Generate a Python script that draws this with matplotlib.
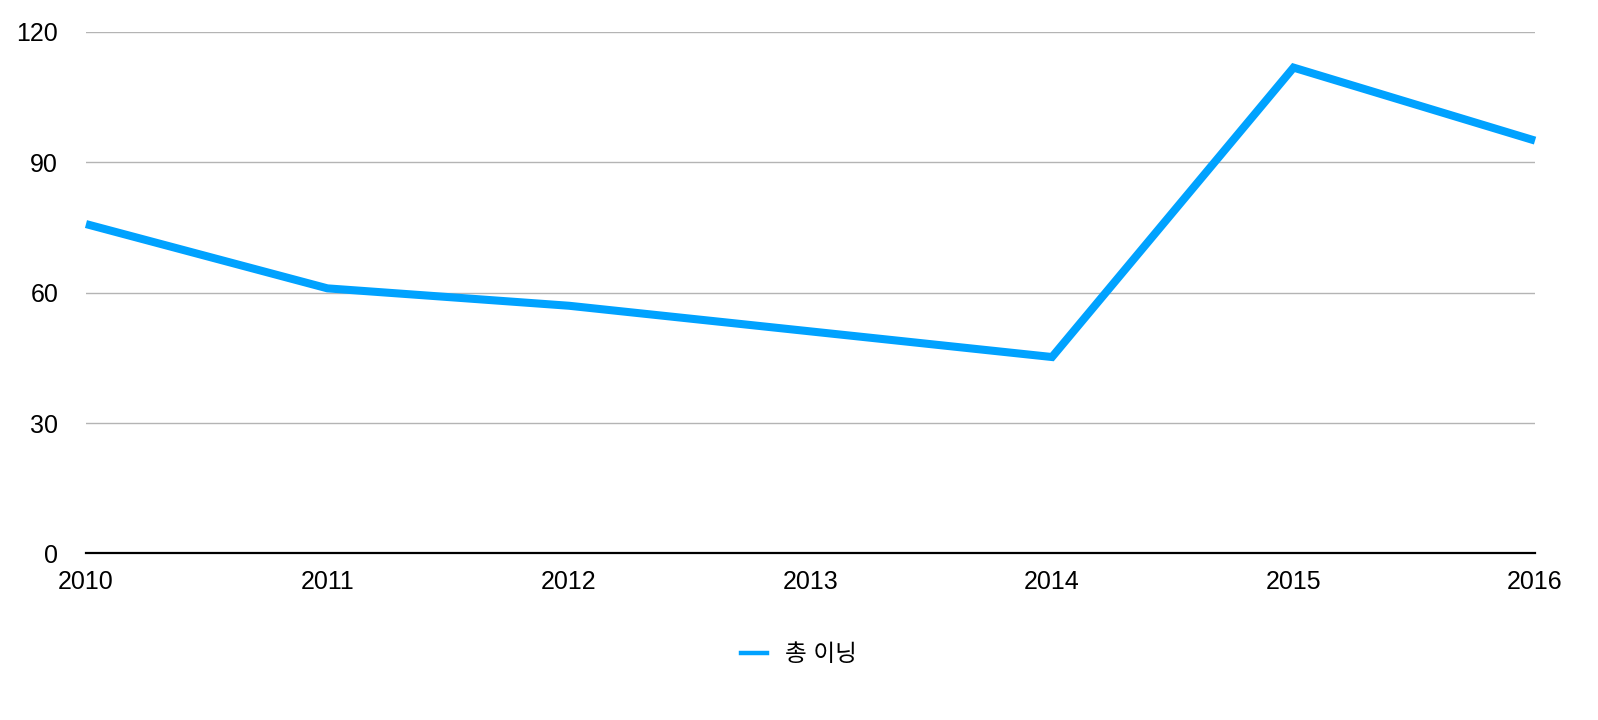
import matplotlib
matplotlib.use("Agg")
import matplotlib.pyplot as plt
from matplotlib.lines import Line2D

# data
years = [2010, 2011, 2012, 2013, 2014, 2015, 2016]
innings = [75.8, 61.0, 57.0, 51.1, 45.2, 111.8, 95.0]
series_name = "총 이닝"
y_ticks = [0, 30, 60, 90, 120]

plt.rcParams['font.family'] = ['Liberation Sans', 'Noto Sans CJK KR']

fig = plt.figure(figsize=(15.98, 7.2), dpi=100)
ax = fig.add_axes([0.0538, 0.2313, 0.9068, 0.7243])

ax.plot(years, innings, color='#00A2FF', linewidth=5.8, solid_joinstyle='miter',
        solid_capstyle='butt', clip_on=False, zorder=3)

ax.set_xlim(years[0], years[-1])
ax.set_ylim(0, 120)
ax.set_xticks(years)
ax.set_yticks(y_ticks)
ax.yaxis.grid(True, color='#b4b4b4', linewidth=1)
ax.set_axisbelow(True)

for side in ['top', 'right', 'left']:
    ax.spines[side].set_visible(False)
ax.spines['bottom'].set_color('black')
ax.spines['bottom'].set_linewidth(1.6)
ax.spines['bottom'].set_zorder(4)

ax.tick_params(axis='y', length=0, pad=20, labelsize=18)
ax.tick_params(axis='x', length=0, pad=12, labelsize=18)

handle = Line2D([], [], color='#00A2FF', linewidth=3.2)
fig.legend([handle], [series_name], loc='center', bbox_to_anchor=(0.5, 0.09),
           frameon=False, fontsize=17, handlelength=1.1, handletextpad=0.8)

fig.savefig("out.png", dpi=100)
